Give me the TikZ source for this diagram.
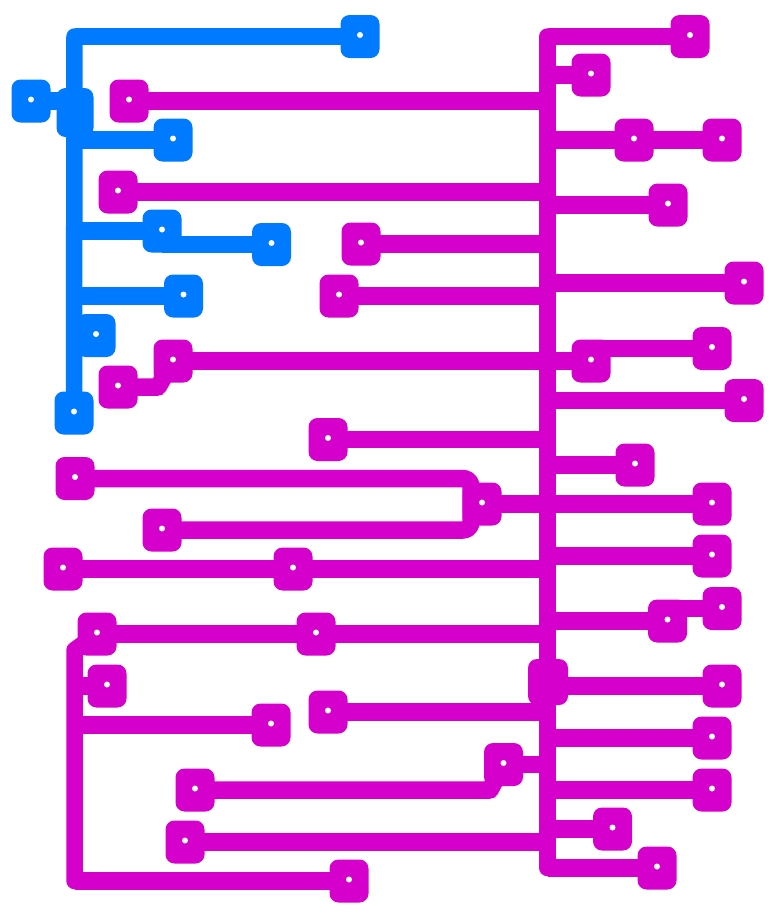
\documentclass[tikz,border=0pt]{standalone}
\definecolor{netb}{RGB}{0,122,255}
\definecolor{netm}{RGB}{214,0,204}
\tikzset{
  x=1pt,y=-1pt,
  padbase/.style={shape=rectangle,rounded corners=9pt,minimum width=39pt,minimum height=43pt,inner sep=0pt,outer sep=0pt,draw=none},
  bpad/.style={padbase,fill=netb},
  mpad/.style={padbase,fill=netm},
  bigb/.style={padbase,fill=netb,minimum width=37pt,minimum height=49pt},
  bigm/.style={padbase,fill=netm,minimum width=40pt,minimum height=46pt},
  trace/.style={line width=17.5pt,line join=round,line cap=butt},
  trunk/.style={line width=16.5pt,line join=round,line cap=round},
  btrace/.style={trace,draw=netb},
  mtrace/.style={trace,draw=netm},
  holemark/.style={fill=white}
}
\begin{document}
\begin{tikzpicture}
\useasboundingbox (0,0) rectangle (777,914);
% trunk references
\coordinate (bt) at (74.5,36.5);
\coordinate (mt) at (547.5,36.5);
\coordinate (lt) at (74.5,650);
\coordinate (fork) at (471,504);
% blue pads
\foreach \n/\x/\y in {b1/360/36.5,b2/31/101,b4/173/140,b5/162/231,b6/271.5/244.5,b7/183.5/296,b8/96/335.5,b9/74/413}
  \node[bpad] (\n) at (\x,\y) {};
\node[bigb] (b3) at (75,112.5) {};
% magenta pads
\foreach \n/\x/\y in {r1/690/36.5,r2/591/75,r3/634/140,r4/722/140,r5/668/205,r6/744/283,r7/591/361,r8/712/348.5,r9/744/400.5,r10/635/465,r11/712/504,r12/712/556,r13/667.5/621,r14/722/608.5,r15/722/686,r16/712/738,r17/712/790,r18/612.5/829,r19/657/868,
 l1/129/101,l2/118/192,l3/361/244,l4/339/296,l5/173/361,l6/118/387,l7/328/439.5,l8/75/478.5,l9/482/504,l10/162/530,l11/63/569,l12/293/569,l13/97/634,l14/316/634,l15/107/686,l16/271/725,l17/328/712,l18/503.5/764.5,l19/195/790,l20/185/842,l21/349/881}
  \node[mpad] (\n) at (\x,\y) {};
\node[bigm] (m0) at (548,682) {};
% blue connectors
\draw[trunk,draw=netb] (bt) -- (b9.center);
\draw[btrace] (b1.center) -- (bt);
\draw[btrace] (b2.center) -- (bt |- b2.center);
\draw[btrace] (b4.center) -- (bt |- b4.center);
\draw[btrace] (b5.center) -- (bt |- b5.center);
\draw[btrace] (b6.center) -- (b5.center |- b6.center);
\draw[btrace] (b7.center) -- (bt |- b7.center);
\draw[btrace] (b8.center) -- (bt |- b8.center);
% magenta trunk
\draw[trunk,draw=netm] (mt) -- (mt |- r19.center);
\draw[mtrace] (r1.center) -- (mt);
\draw[mtrace] (r2.center) -- (mt |- r2.center);
\draw[mtrace] (r4.center) -- (mt |- r4.center);
\draw[mtrace] (r5.center) -- (mt |- r5.center);
\draw[mtrace] (r6.center) -- (mt |- r6.center);
\draw[mtrace] (r8.center) -- (r7.center |- r8.center);
\draw[mtrace] (r9.center) -- (mt |- r9.center);
\draw[mtrace] (r10.center) -- (mt |- r10.center);
\draw[mtrace] (r11.center) -- (l9.center);
\draw[mtrace] (r12.center) -- (mt |- r12.center);
\draw[mtrace] (r13.center) -- (mt |- r13.center);
\draw[mtrace] (r14.center) -- (r13.center |- r14.center);
\draw[mtrace] (r15.center) -- (mt |- r15.center);
\draw[mtrace] (r16.center) -- (mt |- r16.center);
\draw[mtrace] (r17.center) -- (mt |- r17.center);
\draw[mtrace] (r18.center) -- (mt |- r18.center);
\draw[mtrace] (r19.center) -- (mt |- r19.center);
\draw[mtrace] (l1.center) -- (mt |- l1.center);
\draw[mtrace] (l2.center) -- (mt |- l2.center);
\draw[mtrace] (l3.center) -- (mt |- l3.center);
\draw[mtrace] (l4.center) -- (mt |- l4.center);
\draw[mtrace] (l5.center) -- (r7.center);
\draw[mtrace] (l6.center) -- ++(40,0) -- (l5.center);
\draw[mtrace] (l7.center) -- (mt |- l7.center);
\draw[mtrace,rounded corners=8pt] (l8.center) -| (fork) |- (l10.center);
\draw[mtrace] (l11.center) -- (mt |- l11.center);
\draw[mtrace] (l13.center) -- (mt |- l13.center);
\draw[trunk,draw=netm] (l13.center) -- (lt) -- (lt |- l21.center);
\draw[mtrace] (l15.center) -- (lt |- l15.center);
\draw[mtrace] (l16.center) -- (lt |- l16.center);
\draw[mtrace] (l21.center) -- (lt |- l21.center);
\draw[mtrace] (l17.center) -- (mt |- l17.center);
\draw[mtrace] (l18.center) -- (mt |- l18.center);
\draw[mtrace] (l19.center) -- ++(295,0) -- (l18.center);
\draw[mtrace] (l20.center) -- (mt |- l20.center);
% drill holes
\foreach \n in {b1,b2,b4,b5,b6,b7,b8,b9,r1,r2,r3,r4,r5,r6,r7,r8,r9,r10,r11,r12,r13,r14,r15,r16,r17,r18,r19,l1,l2,l3,l4,l5,l6,l7,l8,l9,l10,l11,l12,l13,l14,l15,l16,l17,l18,l19,l20,l21}
  \fill[holemark] ([yshift=1.5pt]\n.center) circle (3pt);
\end{tikzpicture}
\end{document}
